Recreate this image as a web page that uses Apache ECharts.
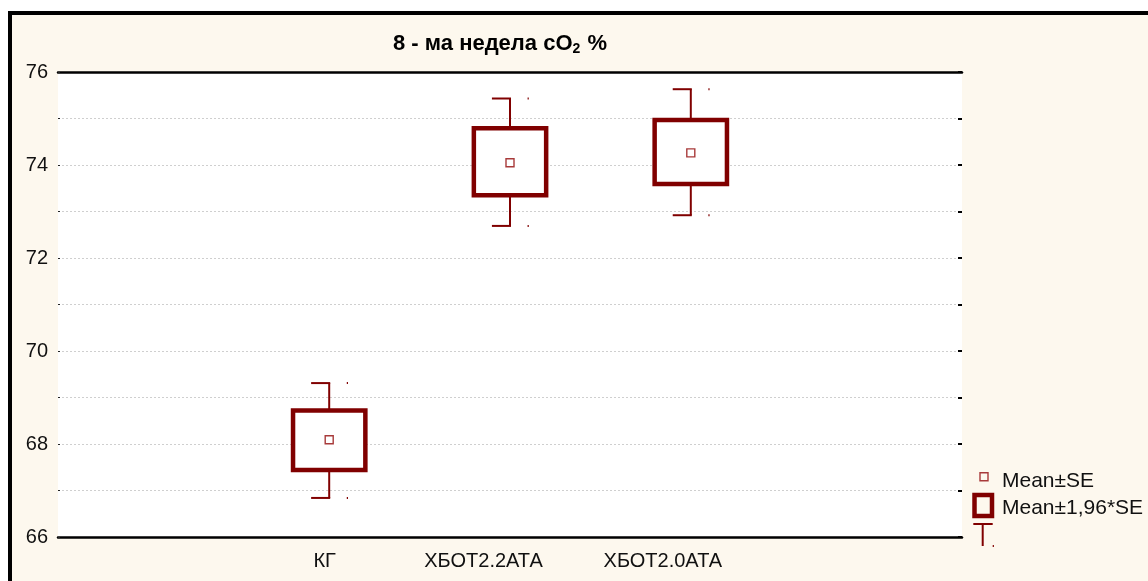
<!DOCTYPE html>
<html>
<head>
<meta charset="utf-8">
<script src="https://cdn.jsdelivr.net/npm/echarts@6/dist/echarts.min.js"></script>
<style>
  html, body { margin: 0; padding: 0; background: #ffffff; }
  #chart { width: 1148px; height: 581px; }
</style>
</head>
<body>
<div id="chart"></div>
<script>
// Groups on the horizontal axis (empty slots pad both ends)
const categories = ['', 'КГ', 'ХБОТ2.2АТА', 'ХБОТ2.0АТА', ''];
// Group positions of the three measured groups
const groupIndex = [1, 2, 3];
// Mean cO2 % per group
const means = [68.09, 74.05, 74.26];
// Mean ± SE (box)
const seLow = [67.44, 73.35, 73.59];
const seHigh = [68.72, 74.79, 74.97];
// Mean ± 1,96*SE (whiskers)
const ciLow = [66.84, 72.69, 72.92];
const ciHigh = [69.31, 75.43, 75.63];
// Value axis range
const yMin = 66;
const yMax = 76;
const yStep = 1;

const DARK_RED = '#800000';
const MEAN_RED = '#a83a3a';
const CREAM = '#fdf8ee';
const FONT = '"Liberation Sans", Arial, sans-serif';

// category labels sit slightly left of their tick
const labelShift = { 'КГ': 9, 'ХБОТ2.2АТА': 53, 'ХБОТ2.0АТА': 56 };
const labelRich = {};
categories.forEach((c, i) => {
  labelRich['c' + i] = { fontFamily: FONT, fontSize: 20, color: '#111', padding: [0, labelShift[c] || 0, 0, 0] };
});

const boxData = groupIndex.map((g, i) => [g, means[i], seLow[i], seHigh[i], ciLow[i], ciHigh[i]]);

function renderBox(params, api) {
  const idx = api.value(0);
  const x = api.coord([idx, api.value(1)])[0];
  const yMean = api.coord([idx, api.value(1)])[1];
  const ySeLo = api.coord([idx, api.value(2)])[1];
  const ySeHi = api.coord([idx, api.value(3)])[1];
  const yCiLo = api.coord([idx, api.value(4)])[1];
  const yCiHi = api.coord([idx, api.value(5)])[1];
  const band = api.size([1, 0])[0];
  const halfBox = band * 0.2;
  const cap = band * 0.1;
  const wStyle = { stroke: DARK_RED, lineWidth: 2, fill: null };
  const dotStyle = { fill: DARK_RED };
  return {
    type: 'group',
    children: [
      { type: 'line', shape: { x1: x, y1: ySeHi, x2: x, y2: yCiHi }, style: wStyle },
      { type: 'line', shape: { x1: x - cap, y1: yCiHi, x2: x + 1, y2: yCiHi }, style: wStyle },
      { type: 'rect', shape: { x: x + cap - 0.5, y: yCiHi - 1, width: 1.2, height: 2 }, style: dotStyle },
      { type: 'line', shape: { x1: x, y1: ySeLo, x2: x, y2: yCiLo }, style: wStyle },
      { type: 'line', shape: { x1: x - cap, y1: yCiLo, x2: x + 1, y2: yCiLo }, style: wStyle },
      { type: 'rect', shape: { x: x + cap - 0.5, y: yCiLo - 1, width: 1.2, height: 2 }, style: dotStyle },
      { type: 'rect', shape: { x: x - halfBox, y: ySeHi, width: halfBox * 2, height: ySeLo - ySeHi },
        style: { fill: '#ffffff', stroke: DARK_RED, lineWidth: 4.5 } },
      { type: 'rect', shape: { x: x - 4, y: yMean - 4, width: 8, height: 8 },
        style: { fill: null, stroke: MEAN_RED, lineWidth: 1.4 } }
    ]
  };
}

const chart = echarts.init(document.getElementById('chart'), null, { renderer: 'canvas' });

chart.setOption({
  backgroundColor: '#ffffff',
  animation: false,
  title: {
    text: '{t|8 - ма недела cO}{s|2}{t| %}',
    left: 500,
    top: 32,
    padding: 0,
    textAlign: 'center',
    textStyle: {
      rich: {
        t: { fontFamily: FONT, fontSize: 22, fontWeight: 'bold', color: '#000' },
        s: { fontFamily: FONT, fontSize: 14, fontWeight: 'bold', color: '#000', padding: [10, 1, 0, 0] }
      }
    }
  },
  grid: {
    left: 58, right: 186, top: 72, bottom: 44,
    show: true, backgroundColor: '#ffffff', borderWidth: 0
  },
  xAxis: [
    {
      type: 'category',
      data: categories,
      position: 'bottom',
      boundaryGap: true,
      axisLine: { lineStyle: { color: '#000', width: 2.5 } },
      axisTick: { inside: true, length: 4, alignWithLabel: true, interval: 0, lineStyle: { color: '#000', width: 1.5 } },
      axisLabel: {
        interval: 0, margin: 14, fontFamily: FONT, fontSize: 20, color: '#111',
        formatter: (v, i) => (v ? '{c' + i + '|' + v + '}' : ''),
        rich: labelRich
      },
      splitLine: { show: false }
    },
    {
      type: 'category',
      data: categories,
      position: 'top',
      boundaryGap: true,
      axisLine: { lineStyle: { color: '#000', width: 2.5 } },
      axisTick: { inside: true, length: 4, alignWithLabel: true, interval: 0, lineStyle: { color: '#000', width: 1.5 } },
      axisLabel: { show: false },
      splitLine: { show: false }
    }
  ],
  yAxis: [
    {
      type: 'value',
      min: yMin, max: yMax, interval: yStep,
      position: 'left',
      axisLine: { show: false },
      axisTick: { show: true, inside: true, length: 2, lineStyle: { color: '#222', width: 1 } },
      axisLabel: {
        margin: 10, fontFamily: FONT, fontSize: 20, color: '#111',
        formatter: v => (v % 2 === 0 ? String(v) : '')
      },
      splitLine: { show: true, lineStyle: { color: '#cfcfcf', type: [2, 2], width: 1 } }
    },
    {
      type: 'value',
      min: yMin, max: yMax, interval: yStep,
      position: 'right',
      axisLine: { show: false },
      axisTick: { show: true, inside: true, length: 4, lineStyle: { color: '#000', width: 2 } },
      axisLabel: { show: false },
      splitLine: { show: false }
    }
  ],
  series: [
    {
      type: 'custom',
      name: 'Mean±1,96*SE',
      xAxisIndex: 0,
      yAxisIndex: 0,
      renderItem: renderBox,
      encode: { x: 0, y: [1, 2, 3, 4, 5] },
      data: boxData,
      clip: false,
      z: 5
    }
  ],
  graphic: [
    // panel background with heavy frame
    { type: 'rect', z: -100, silent: true,
      shape: { x: 10, y: 13, width: 1300, height: 800 },
      style: { fill: CREAM, stroke: '#000', lineWidth: 4 } },
    // legend: mean marker
    { type: 'rect', z: 50, shape: { x: 980, y: 472.7, width: 8, height: 8 },
      style: { fill: null, stroke: MEAN_RED, lineWidth: 1.4 } },
    { type: 'text', z: 50, left: 1002, top: 471,
      style: { text: 'Mean±SE', font: '21px ' + FONT, fill: '#111' } },
    // legend: box
    { type: 'rect', z: 50, shape: { x: 974.5, y: 495, width: 17.5, height: 21 },
      style: { fill: null, stroke: DARK_RED, lineWidth: 4.5 } },
    { type: 'text', z: 50, left: 1002, top: 498,
      style: { text: 'Mean±1,96*SE', font: '21px ' + FONT, fill: '#111' } },
    // legend: whisker
    { type: 'line', z: 50, shape: { x1: 973.3, y1: 524, x2: 992.7, y2: 524 },
      style: { stroke: DARK_RED, lineWidth: 2 } },
    { type: 'line', z: 50, shape: { x1: 982.7, y1: 524, x2: 982.7, y2: 546 },
      style: { stroke: DARK_RED, lineWidth: 2 } },
    { type: 'rect', z: 50, shape: { x: 992.7, y: 545, width: 1.2, height: 2 },
      style: { fill: DARK_RED } }
  ]
});
</script>
</body>
</html>
